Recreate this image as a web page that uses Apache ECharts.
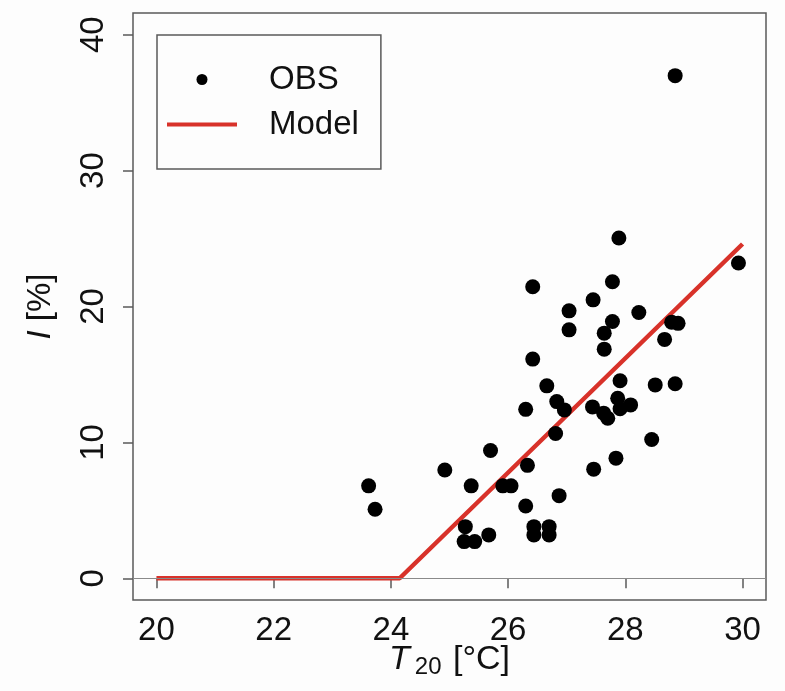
<!DOCTYPE html>
<html>
<head>
<meta charset="utf-8">
<script src="https://cdn.jsdelivr.net/npm/echarts@6/dist/echarts.min.js"></script>
<style>
html,body{margin:0;padding:0;background:#fdfdfd;}
#c{width:785px;height:691px;}
</style>
</head>
<body>
<div id="c"></div>
<script>
// Observed data (T20 in °C, I in %)
const obsT = [23.62,23.73,24.92,25.27,25.25,25.43,25.37,25.67,25.70,25.91,26.05,26.30,26.30,26.33,26.42,26.42,26.44,26.44,26.66,26.70,26.70,26.83,26.81,26.96,26.87,27.04,27.04,27.45,27.44,27.46,27.63,27.70,27.64,27.64,27.78,27.78,27.84,27.87,27.89,27.91,27.91,28.09,28.23,28.45,28.51,28.67,28.79,28.90,28.85,28.85,29.93];
const obsI = [6.80,5.08,7.97,3.80,2.70,2.70,6.80,3.19,9.40,6.80,6.80,5.32,12.43,8.31,21.45,16.13,3.80,3.19,14.16,3.80,3.19,13.00,10.65,12.39,6.08,19.68,18.28,20.49,12.61,8.03,12.15,11.78,18.04,16.86,21.82,18.90,8.84,13.25,25.04,14.54,12.47,12.76,19.56,10.21,14.23,17.58,18.84,18.76,14.31,36.99,23.20];
// Model curve
const modelT = [20, 24.15, 30];
const modelI = [0, 0, 24.6];
// Axis ticks
const xTicks = [20, 22, 24, 26, 28, 30];
const yTicks = [0, 10, 20, 30, 40];

const FONT = 'Liberation Sans';
const RED = '#d8322a';
const chart = echarts.init(document.getElementById('c'));
chart.setOption({
  backgroundColor: '#fdfdfd',
  animation: false,
  textStyle: {fontFamily: FONT, color: '#111'},
  grid: {left: 133, top: 13, right: 19, bottom: 91, outerBoundsMode: 'none', containLabel: false, show: true, borderColor: '#5a5a5a', borderWidth: 1.5, backgroundColor: 'transparent'},
  legend: {
    data: [
      {name: 'OBS', icon: 'circle', itemStyle: {color: '#000', opacity: 1}},
      {name: 'Model', itemStyle: {color: 'rgba(0,0,0,0)', borderWidth: 0}, lineStyle: {color: RED, width: 4}}
    ],
    orient: 'vertical',
    left: 157, top: 35,
    padding: [28, 22, 28, 8],
    borderColor: '#5a5a5a', borderWidth: 1.5,
    itemWidth: 70, itemHeight: 11, itemGap: 12,
    textStyle: {fontFamily: FONT, fontSize: 33, color: '#111', padding: [0, 0, 0, 27]},
    selectedMode: false
  },
  xAxis: {
    type: 'value', min: 19.6, max: 30.4,
    splitLine: {show: false},
    axisLine: {show: false},
    axisTick: {show: true, inside: false, length: 10, customValues: xTicks, lineStyle: {color: '#5a5a5a', width: 1.5}},
    axisLabel: {customValues: xTicks, fontSize: 33, color: '#111', margin: 14, fontFamily: FONT},
    name: '{i|T}{s|20}{n| [°C]}',
    nameLocation: 'middle', nameGap: 41, nameMoveOverlap: false,
    nameTextStyle: {
      rich: {
        i: {fontFamily: FONT, fontStyle: 'italic', fontSize: 34, color: '#111'},
        s: {fontFamily: FONT, fontSize: 24, color: '#111', padding: [14, 2, 0, 5]},
        n: {fontFamily: FONT, fontSize: 34, color: '#111'}
      }
    }
  },
  yAxis: {
    type: 'value', min: -1.6, max: 41.6,
    splitLine: {show: false},
    axisLine: {show: false},
    axisTick: {show: true, inside: false, length: 10, customValues: yTicks, lineStyle: {color: '#5a5a5a', width: 1.5}},
    axisLabel: {customValues: yTicks, fontSize: 33, color: '#111', margin: 23, rotate: 90, fontFamily: FONT},
    name: '{i|I}{n| [%]}',
    nameLocation: 'middle', nameGap: 76,
    nameTextStyle: {
      rich: {
        i: {fontFamily: FONT, fontStyle: 'italic', fontSize: 33, color: '#111'},
        n: {fontFamily: FONT, fontSize: 33, color: '#111'}
      }
    }
  },
  series: [
    {
      name: 'ref', type: 'line', data: [], z: 1, silent: true,
      markLine: {silent: true, symbol: 'none', label: {show: false}, lineStyle: {color: '#8a8a8a', width: 1.2, type: 'solid'}, data: [{yAxis: 0}]}
    },
    {
      name: 'Model', type: 'line', z: 2,
      data: modelT.map((t, i) => [t, modelI[i]]),
      showSymbol: false, symbol: 'none',
      lineStyle: {color: RED, width: 4.5},
      itemStyle: {color: RED}
    },
    {
      name: 'OBS', type: 'scatter', z: 3,
      data: obsT.map((t, i) => [t, obsI[i]]),
      symbol: 'circle', symbolSize: 15,
      itemStyle: {color: '#000', opacity: 1}
    }
  ]
});
</script>
</body>
</html>
